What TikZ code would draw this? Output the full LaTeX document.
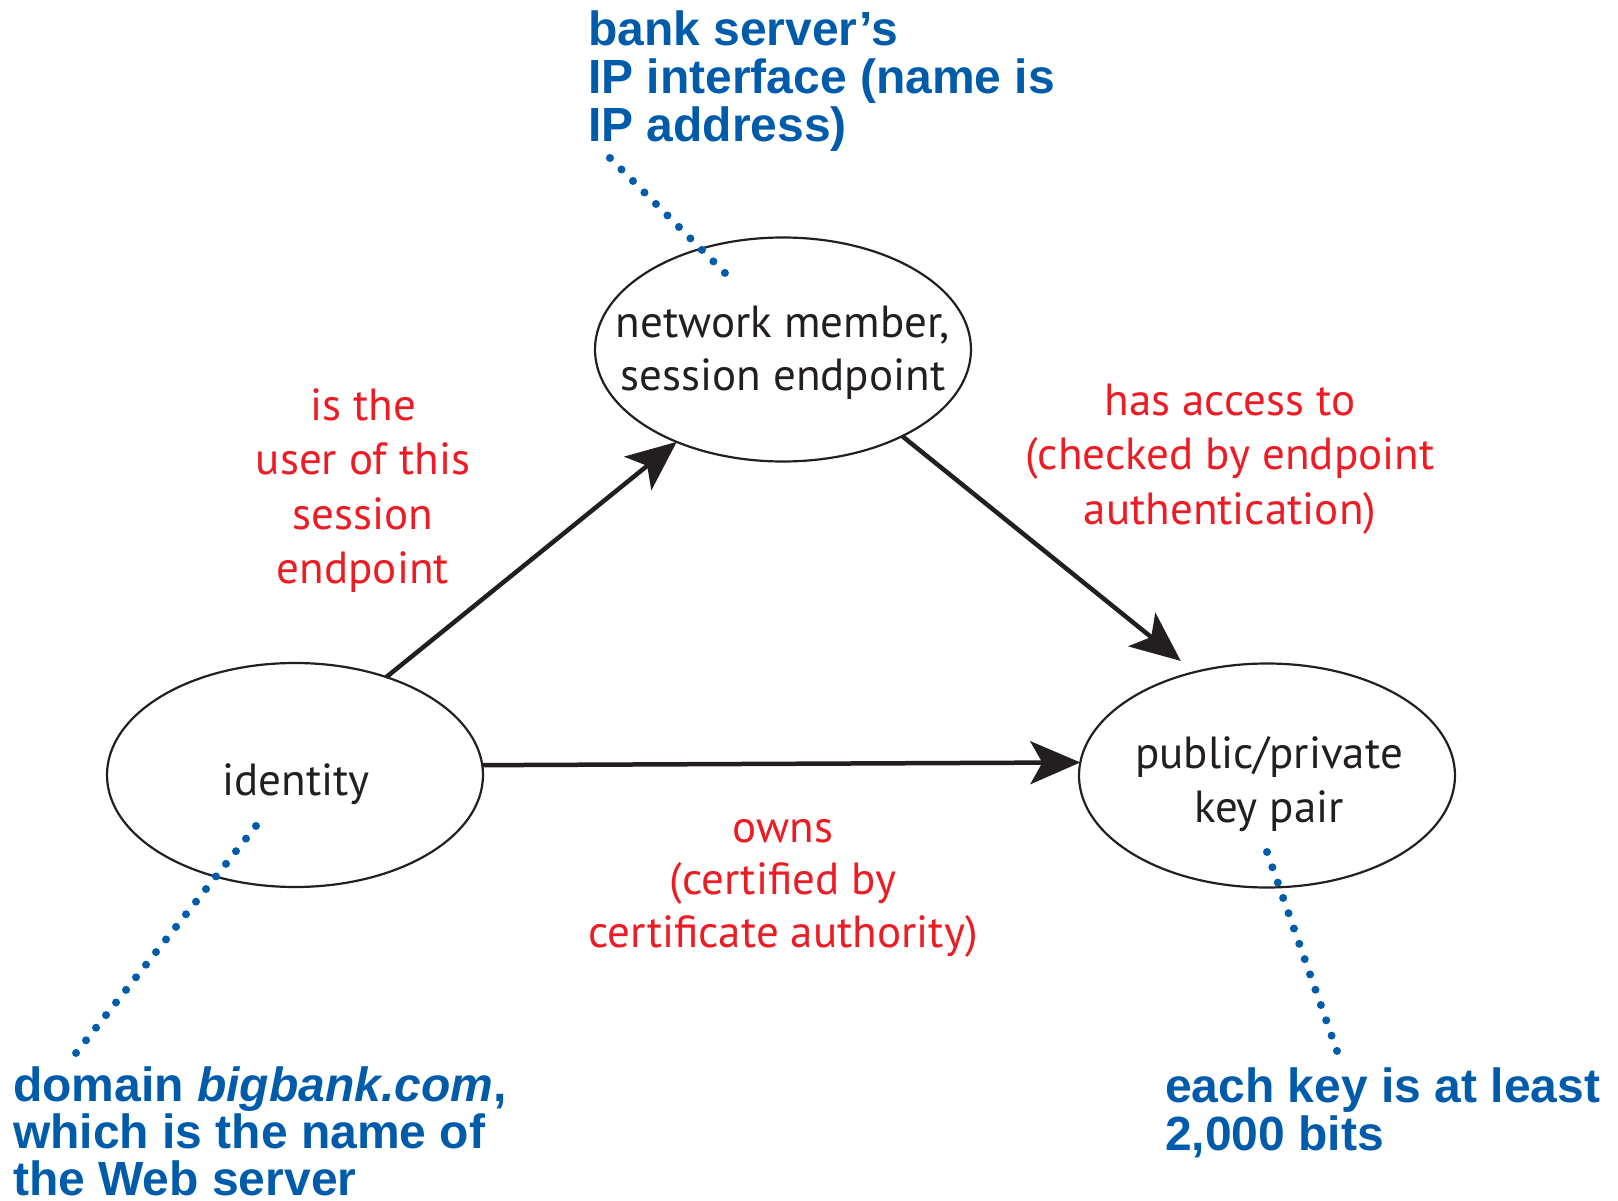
\documentclass[tikz,border=0pt]{standalone}
\usepackage{fontspec}
\setmainfont{PT Sans}
\newfontfamily\calloutfont{Liberation Sans}
\usetikzlibrary{shapes.geometric,arrows.meta}

\definecolor{inkblack}{HTML}{231F20}
\definecolor{relred}{HTML}{ED1C24}
\definecolor{noteblue}{HTML}{005BAA}

% stacked lines whose box baseline is the first line's baseline
\newcommand\centrelines[1]{\vtop{\halign{\hfil##\hfil\cr#1\crcr}}}
\newcommand\leftlines[1]{\vtop{\halign{##\hfil\cr#1\crcr}}}

\begin{document}
\begin{tikzpicture}[x=1pt,y=-1pt,
  entity/.style={ellipse, draw=inkblack, line width=2.2pt, outer sep=0pt,
    minimum width=376pt, minimum height=224pt, inner sep=0pt},
  entitytext/.style={anchor=base, inner sep=0pt, text=inkblack,
    font=\fontsize{45}{54}\selectfont},
  relation/.style={anchor=base, inner sep=0pt, text=relred,
    font=\fontsize{45}{54.5}\selectfont},
  note/.style={anchor=base west, inner sep=0pt, text=noteblue,
    font=\calloutfont\bfseries\fontsize{48}{48}\selectfont},
  link/.style={draw=inkblack, line width=4.5pt,
    -{Stealth[length=50pt,width=43pt,inset=12pt]}},
  pointer/.style={draw=noteblue, line width=8pt, line cap=round}
]
\useasboundingbox (0,0) rectangle (1618,1201);

% the three entities
\node[entity] (net) at (783,349.5) {};
\node[entity] (id)  at (295,775) {};
\node[entity] (key) at (1267,775.5) {};

\node[entitytext] (nettext) at (783,337) {\centrelines{network member,\cr session endpoint}};
\node[entitytext] (idtext)  at (296,795) {identity};
\node[entitytext] (keytext) at (1269,768) {\centrelines{public/private\cr key pair}};

% relations between the entities
\draw[link] (id.47.7) -- (net.221.4);
\draw[link, shorten >=17.8pt] (net.324.8) -- (key.125.35);
\draw[link] (id.3.36) -- (key.176.5);

\node[relation] (userrel) at (363,420)
  {\centrelines{is the\cr user of this\cr session\cr endpoint}};
\node[relation] (accessrel) at (1230,415)
  {\centrelines{has access to\cr (checked by endpoint\cr authentication)}};
\node[relation, font=\fontsize{45}{52.5}\selectfont] (ownsrel) at (783,842)
  {\centrelines{owns\cr (certified by\cr certificate authority)}};

% notes with their dotted pointers
\node[note] (ipnote) at (588,46)
  {\leftlines{bank server’s\cr IP interface (name is\cr IP address)}};
\node[note, font=\calloutfont\bfseries\fontsize{48}{47.3}\selectfont] (domainnote) at (13,1101)
  {\leftlines{domain \textit{bigbank.com},\cr which is the name of\cr the Web server}};
\node[note] (bitsnote) at (1165,1102)
  {\leftlines{each key is at least\cr 2,000 bits}};

\coordinate (ipend)  at (610,158);
\coordinate (ipin)   at (725,273);
\coordinate (domend) at (76,1053);
\coordinate (domin)  at (256,826);
\coordinate (bitend) at (1337,1051);
\coordinate (bitin)  at (1267,852);

\draw[pointer, dash pattern=on 0pt off 16.25pt] (ipend) -- (ipin);
\draw[pointer, dash pattern=on 0pt off 16.09pt] (domin) -- (domend);
\draw[pointer, dash pattern=on 0pt off 16.22pt] (bitin) -- (bitend);
\end{tikzpicture}
\end{document}
